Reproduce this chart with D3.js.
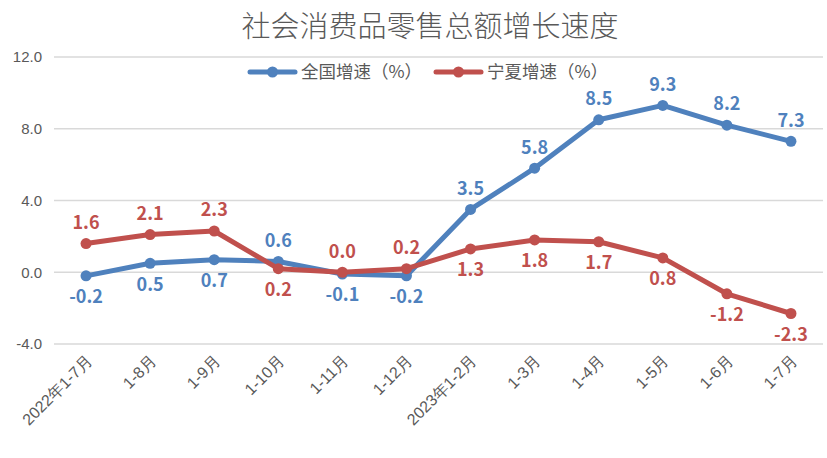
<!DOCTYPE html>
<html lang="zh">
<head>
<meta charset="UTF-8">
<title>社会消费品零售总额增长速度</title>
<script src="https://cdn.jsdelivr.net/npm/d3@7"></script>
<style>
  body { margin: 0; background: #fff; }
  svg { font-family: 'Noto Sans CJK SC', 'Noto Sans', sans-serif; }
  .grid line { stroke: #d9d9d9; stroke-width: 1.3px; }
  .axis text { fill: #595959; font-size: 15px; }
  .xaxis text { font-size: 16px; }
</style>
</head>
<body>
<svg id="chart" width="827" height="458"></svg>
<script>
// categories and values
const months = ['2022年1-7月', '1-8月', '1-9月', '1-10月', '1-11月', '1-12月',
                '2023年1-2月', '1-3月', '1-4月', '1-5月', '1-6月', '1-7月'];
const national = [-0.2, 0.5, 0.7, 0.6, -0.1, -0.2, 3.5, 5.8, 8.5, 9.3, 8.2, 7.3];
const ningxia = [1.6, 2.1, 2.3, 0.2, 0.0, 0.2, 1.3, 1.8, 1.7, 0.8, -1.2, -2.3];
const yTicks = [-4, 0, 4, 8, 12];
// which side the value label sits on (1 = above, -1 = below)
const nationalSide = [-1, -1, -1, 1, -1, -1, 1, 1, 1, 1, 1, 1];
const ningxiaSide = [1, 1, 1, -1, 1, 1, -1, -1, -1, -1, -1, -1];

const series = [
  { name: '全国增速（%）', values: national, side: nationalSide, color: '#4f81bd' },
  { name: '宁夏增速（%）', values: ningxia, side: ningxiaSide, color: '#c0504d' }
];

// plain hyphen for negatives, like the original
const fmt = d => d.toFixed(1);

const svg = d3.select('#chart');
const plotL = 54, plotR = 823, plotT = 57, plotB = 344;

const x = d3.scaleBand().domain(months).range([plotL, plotR]);
const y = d3.scaleLinear().domain([-4, 12]).range([plotB, plotT]);

// title
svg.append('text')
  .attr('x', 430).attr('y', 37)
  .attr('text-anchor', 'middle')
  .attr('fill', '#595959')
  .style('font-size', '29px')
  .style('font-weight', '300')
  .text('社会消费品零售总额增长速度');

// gridlines
svg.append('g').attr('class', 'grid')
  .selectAll('line').data(yTicks).join('line')
  .attr('x1', plotL).attr('x2', plotR)
  .attr('y1', d => y(d)).attr('y2', d => y(d));

// y axis
const yAxis = svg.append('g').attr('class', 'axis')
  .attr('transform', `translate(${plotL},0)`)
  .call(d3.axisLeft(y).tickValues(yTicks).tickFormat(fmt).tickSize(0).tickPadding(12));
yAxis.select('.domain').remove();

// x axis labels, rotated
const xAxis = svg.append('g').attr('class', 'axis xaxis')
  .attr('transform', `translate(0,${plotB})`)
  .call(d3.axisBottom(x).tickSize(0).tickPadding(0));
xAxis.select('.domain').remove();
xAxis.selectAll('text')
  .attr('text-anchor', 'end')
  .attr('dy', null)
  .attr('transform', 'translate(7,18) rotate(-45)');

const xc = d => x(d) + x.bandwidth() / 2;
const line = d3.line().x((d, i) => xc(months[i])).y(d => y(d));

series.forEach(s => {
  const g = svg.append('g');
  g.append('path')
    .datum(s.values)
    .attr('d', line)
    .attr('fill', 'none')
    .attr('stroke', s.color)
    .attr('stroke-width', 5)
    .attr('stroke-linejoin', 'round');
  g.selectAll('circle').data(s.values).join('circle')
    .attr('cx', (d, i) => xc(months[i]))
    .attr('cy', d => y(d))
    .attr('r', 5.5)
    .attr('fill', s.color);
  g.selectAll('text').data(s.values).join('text')
    .attr('x', (d, i) => xc(months[i]))
    .attr('y', (d, i) => y(d) - s.side[i] * 21)
    .attr('dy', '0.35em')
    .attr('text-anchor', 'middle')
    .attr('fill', s.color)
    .style('font-size', '18px')
    .style('font-weight', 'bold')
    .text(fmt);
});

// legend
const legend = svg.append('g').attr('transform', 'translate(0,72)');
[250, 436].forEach((lx, i) => {
  const s = series[i];
  const lg = legend.append('g').attr('transform', `translate(${lx},0)`);
  lg.append('line').attr('x1', 0).attr('x2', 45)
    .attr('stroke', s.color).attr('stroke-width', 5).attr('stroke-linecap', 'round');
  lg.append('circle').attr('cx', 22.5).attr('r', 5.5).attr('fill', s.color);
  lg.append('text').attr('x', 51).attr('dy', '0.35em')
    .attr('fill', '#595959').style('font-size', '17.5px')
    .text(s.name);
});
</script>
</body>
</html>
